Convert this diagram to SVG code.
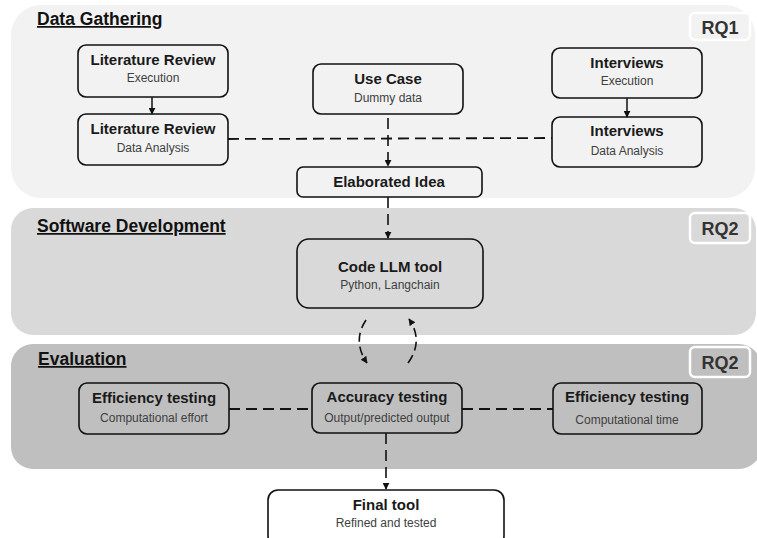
<svg xmlns="http://www.w3.org/2000/svg" width="757" height="538" viewBox="0 0 757 538">
  <defs>
    <marker id="arrow" viewBox="0 0 10 10" refX="9" refY="5" markerWidth="7" markerHeight="7" markerUnits="userSpaceOnUse" orient="auto">
      <path d="M0,0 L10,5 L0,10 Z" fill="#111"/>
    </marker>
    <style>
      .band1 { fill: #f2f2f2; }
      .band2 { fill: #d9d9d9; }
      .band3 { fill: #bfbfbf; }
      .section { font-family: "Liberation Sans", Arial, sans-serif; font-size: 17.5px; font-weight: bold; fill: #111; text-decoration: underline; }
      .rq { stroke: #ffffff; stroke-width: 2.5; }
      .rqtext { font-family: "Liberation Sans", Arial, sans-serif; font-size: 18px; font-weight: bold; fill: #333; text-anchor: middle; }
      .node { fill: none; stroke: #111; stroke-width: 1.6; }
      .title { font-family: "Liberation Sans", Arial, sans-serif; font-size: 15px; font-weight: bold; fill: #1a1a1a; text-anchor: middle; }
      .sub { font-family: "Liberation Sans", Arial, sans-serif; font-size: 12px; fill: #404040; text-anchor: middle; }
      .solid { stroke: #111; stroke-width: 1.5; fill: none; }
      .dash { stroke: #111; stroke-width: 1.8; fill: none; stroke-dasharray: 11 6; }
      .dashv { stroke: #111; stroke-width: 1.6; fill: none; stroke-dasharray: 11 6; }
      .arc { stroke: #111; stroke-width: 1.6; fill: none; stroke-dasharray: 9 5; }
    </style>
  </defs>

  <!-- section bands -->
  <g id="band-data-gathering">
    <rect class="band1" x="11" y="5" width="744" height="193" rx="30"/>
    <text class="section" x="37" y="25">Data Gathering</text>
    <rect class="rq band1" x="690" y="13" width="60" height="27" rx="5"/>
    <text class="rqtext" x="720" y="34">RQ1</text>
  </g>
  <g id="band-software-development">
    <rect class="band2" x="11" y="208" width="745" height="127" rx="22"/>
    <text class="section" x="37" y="232">Software Development</text>
    <rect class="rq band2" x="690" y="213" width="60" height="30" rx="5"/>
    <text class="rqtext" x="720" y="235">RQ2</text>
  </g>
  <g id="band-evaluation">
    <rect class="band3" x="11" y="344" width="750" height="125" rx="22"/>
    <text class="section" x="38" y="365">Evaluation</text>
    <rect class="rq band3" x="690" y="347" width="60" height="30" rx="5"/>
    <text class="rqtext" x="720" y="369">RQ2</text>
  </g>

  <!-- connectors -->
  <g id="connectors">
    <line class="solid" x1="152" y1="97" x2="152" y2="114" marker-end="url(#arrow)"/>
    <line class="solid" x1="627" y1="98" x2="627" y2="117" marker-end="url(#arrow)"/>
    <line class="dash" x1="228" y1="139" x2="552" y2="138"/>
    <line class="dashv" x1="388" y1="118" x2="388" y2="166" marker-end="url(#arrow)"/>
    <line class="dashv" x1="388" y1="197" x2="388" y2="238" marker-end="url(#arrow)"/>
    <path class="arc" d="M366,320 Q352,341 367,363" marker-end="url(#arrow)"/>
    <path class="arc" d="M408,363 Q424,341 409,319" marker-end="url(#arrow)"/>
    <line class="dash" x1="229" y1="409" x2="312" y2="409"/>
    <line class="dash" x1="462" y1="409" x2="553" y2="409"/>
    <line class="dashv" x1="386" y1="433" x2="386" y2="489" marker-end="url(#arrow)"/>
  </g>

  <!-- nodes -->
  <g id="lit-review-execution">
    <rect class="node" x="78" y="45" width="150" height="52" rx="8"/>
    <text class="title" x="153" y="65">Literature Review</text>
    <text class="sub" x="153" y="82">Execution</text>
  </g>
  <g id="lit-review-analysis">
    <rect class="node" x="78" y="114" width="150" height="51" rx="8"/>
    <text class="title" x="153" y="134">Literature Review</text>
    <text class="sub" x="153" y="152">Data Analysis</text>
  </g>
  <g id="use-case">
    <rect class="node" x="313" y="64" width="150" height="50" rx="8"/>
    <text class="title" x="388" y="84">Use Case</text>
    <text class="sub" x="388" y="102">Dummy data</text>
  </g>
  <g id="elaborated-idea">
    <rect class="node" x="297" y="167" width="185" height="30" rx="6"/>
    <text class="title" x="389" y="187">Elaborated Idea</text>
  </g>
  <g id="interviews-execution">
    <rect class="node" x="552" y="48" width="150" height="50" rx="8"/>
    <text class="title" x="627" y="68">Interviews</text>
    <text class="sub" x="627" y="85">Execution</text>
  </g>
  <g id="interviews-analysis">
    <rect class="node" x="552" y="117" width="150" height="50" rx="8"/>
    <text class="title" x="627" y="136">Interviews</text>
    <text class="sub" x="627" y="155">Data Analysis</text>
  </g>
  <g id="code-llm-tool">
    <rect class="node" x="297" y="239" width="186" height="69" rx="12"/>
    <text class="title" x="390" y="272">Code LLM tool</text>
    <text class="sub" x="390" y="289">Python, Langchain</text>
  </g>
  <g id="efficiency-effort">
    <rect class="node" x="79" y="383" width="150" height="51" rx="8"/>
    <text class="title" x="154" y="403">Efficiency testing</text>
    <text class="sub" x="154" y="422">Computational effort</text>
  </g>
  <g id="accuracy-testing">
    <rect class="node" x="312" y="383" width="150" height="50" rx="8"/>
    <text class="title" x="387" y="402">Accuracy testing</text>
    <text class="sub" x="387" y="422">Output/predicted output</text>
  </g>
  <g id="efficiency-time">
    <rect class="node" x="553" y="383" width="149" height="51" rx="8"/>
    <text class="title" x="627" y="402">Efficiency testing</text>
    <text class="sub" x="627" y="424">Computational time</text>
  </g>
  <g id="final-tool">
    <rect x="268" y="490" width="236" height="56" rx="10" fill="#ffffff" stroke="#111" stroke-width="1.6"/>
    <text class="title" x="386" y="510">Final tool</text>
    <text class="sub" x="386" y="527">Refined and tested</text>
  </g>
</svg>
